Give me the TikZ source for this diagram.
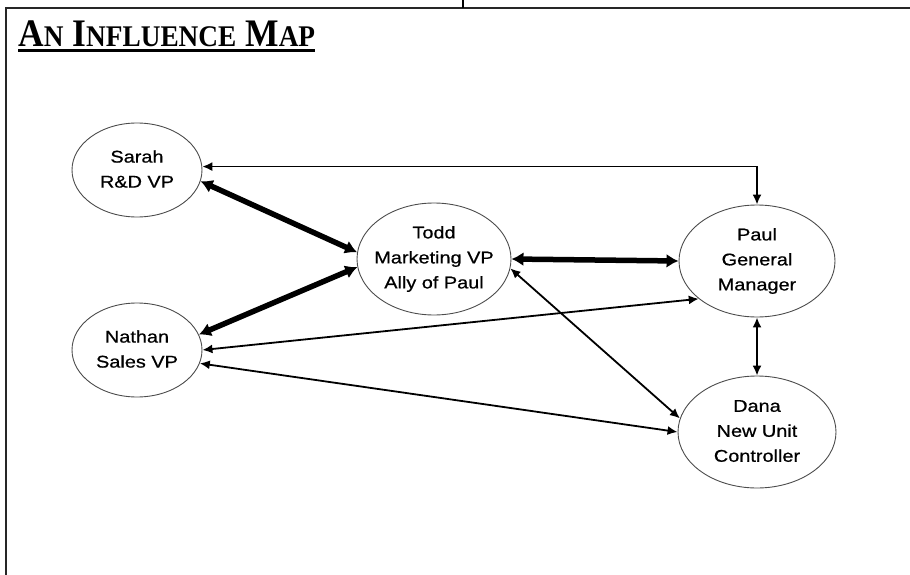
\documentclass[tikz,border=0pt]{standalone}
\usepackage{fontspec}
\setmainfont{Liberation Serif}
\newfontfamily\titlefam[FakeStretch=0.91]{Liberation Serif}
\newfontfamily\nodefontfam[FakeStretch=1.17,FakeBold=0.7]{Liberation Sans}
\usetikzlibrary{shapes.geometric,arrows.meta}
\newcommand{\ttlbig}[1]{{\fontsize{39}{39}\selectfont #1}}
\newcommand{\ttlsmall}[1]{{\fontsize{30}{30}\selectfont #1}}
\tikzset{
  person/.style={ellipse, draw=black!70, line width=0.9pt, inner sep=0pt},
  persontext/.style={align=center, inner sep=0pt, font=\nodefontfam\fontsize{17}{25}\selectfont},
  thinlink/.style={line width=1.8pt, {Latex[length=10pt,width=9pt]}-{Latex[length=10pt,width=9pt]}},
  thicklink/.style={line width=5.5pt, {Latex[length=12pt,width=14pt]}-{Latex[length=12pt,width=14pt]}},
  framerule/.style={line width=2.5pt, black!85},
}
\begin{document}
\begin{tikzpicture}[x=1pt,y=-1pt]
\useasboundingbox (0,0) rectangle (910,575);
% frame
\coordinate (ftl) at (6,8);
\coordinate (ftr) at (910,8);
\coordinate (fbl) at (6,575);
\coordinate (tickt) at (463,0);
\coordinate (tickb) at (463,8);
\draw[framerule] (ftr) -- (ftl) -- (fbl);
\draw[line width=1.2pt] (tickt) -- (tickb);
% title
\node[anchor=base west, inner sep=0pt, font=\titlefam\bfseries\fontsize{39}{39}\selectfont] (title) at (18,47)
  {\ttlbig{A}\ttlsmall{N} \ttlbig{I}\ttlsmall{NFLUENCE} \ttlbig{M}\ttlsmall{AP}};
\draw[line width=2.2pt] ([yshift=-3.5pt]title.base west) -- ([yshift=-3.5pt]title.base east);
% people
\node[person, minimum width=130pt, minimum height=94pt] (sarah) at (137,170) {};
\node[persontext] (sarahtext) at (137,169) {Sarah\\R\&D VP};
\node[person, minimum width=130pt, minimum height=94pt] (nathan) at (137,350) {};
\node[persontext] (nathantext) at (137,349) {Nathan\\Sales VP};
\node[person, minimum width=154pt, minimum height=112pt] (todd) at (434,259) {};
\node[persontext] (toddtext) at (434,259) {Todd\\Marketing VP\\Ally of Paul};
\node[person, minimum width=156pt, minimum height=112pt] (paul) at (757,261) {};
\node[persontext] (paultext) at (757,261) {Paul\\General\\Manager};
\node[person, minimum width=158pt, minimum height=112pt] (dana) at (757,432) {};
\node[persontext] (danatext) at (757,431) {Dana\\New Unit\\Controller};
% connectors
\draw[thinlink] (sarah.3) -| (paul.north);
\draw[thicklink] (sarah.-10) -- (todd.175);
\draw[thicklink] (nathan.14) -- (todd.186);
\draw[thicklink] (todd.east) -- (paul.west);
\draw[thinlink] (nathan.0) -- (paul.213);
\draw[thinlink] (nathan.-12) -- (dana.180);
\draw[thinlink] (todd.-7) -- (dana.170);
\draw[thinlink] (paul.south) -- (dana.north);
\end{tikzpicture}
\end{document}
